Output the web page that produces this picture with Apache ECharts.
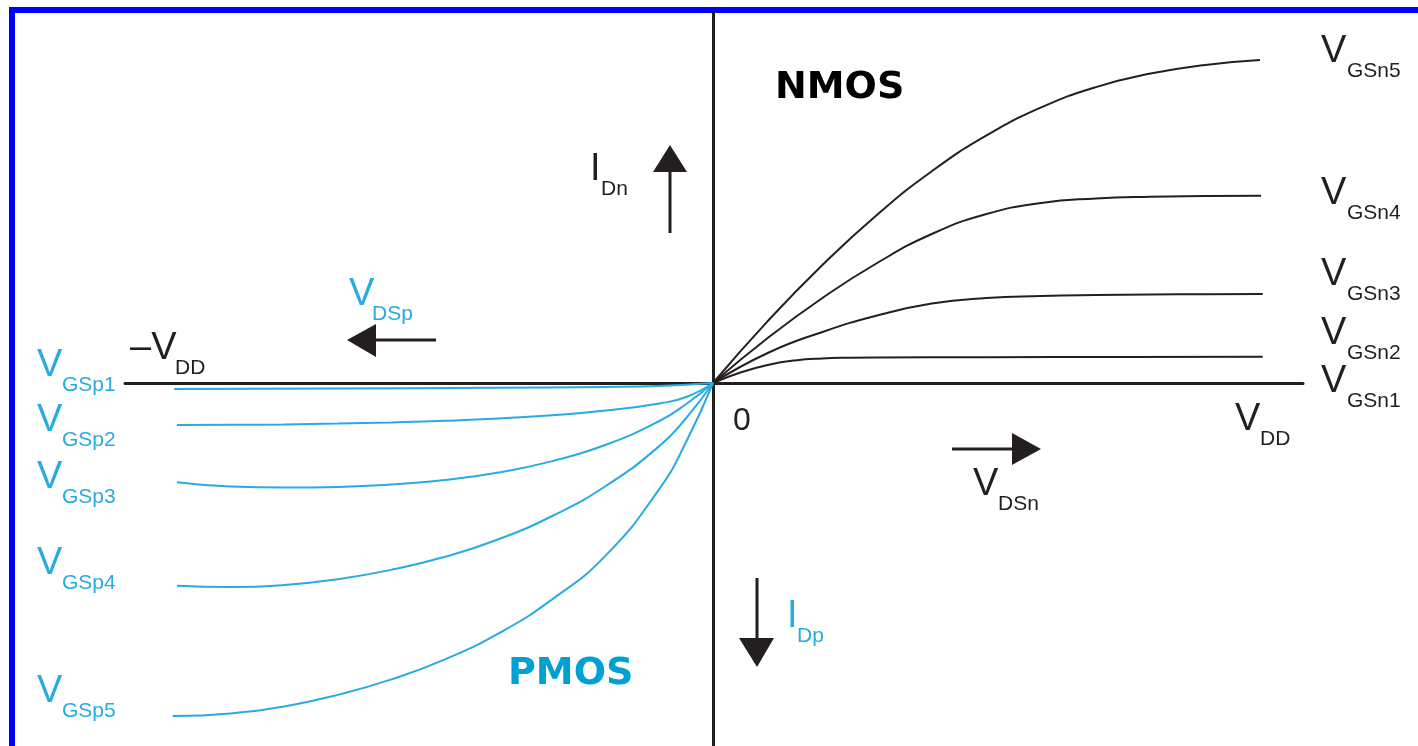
<!DOCTYPE html>
<html>
<head>
<meta charset="utf-8">
<title>NMOS / PMOS output characteristics</title>
<script src="https://cdn.jsdelivr.net/npm/echarts@6/dist/echarts.min.js"></script>
<style>
  html, body { margin: 0; padding: 0; background: #fff; }
  #main { width: 1418px; height: 746px; }
</style>
</head>
<body>
<div id="main"></div>
<script>
// x: V_DS as fraction of VDD, y: drain current (arbitrary units)
var nmos2 = [[0,0],[0.05,0.105],[0.1,0.18],[0.15,0.226],[0.2,0.246],[0.25,0.253],[0.3,0.256],[0.5,0.258],[0.75,0.26],[1.005,0.263]];
var nmos3 = [[0,0],[0.1,0.3],[0.2,0.51],[0.3,0.675],[0.4,0.795],[0.5,0.85],[0.6,0.87],[0.7,0.88],[0.8,0.885],[0.9,0.888],[1.005,0.89]];
var nmos4 = [[0,0],[0.1,0.45],[0.2,0.85],[0.3,1.2],[0.4,1.49],[0.5,1.69],[0.6,1.8],[0.7,1.845],[0.8,1.863],[0.9,1.869],[1.002,1.873]];
var nmos5 = [[0,0],[0.1,0.619],[0.2,1.18],[0.3,1.683],[0.4,2.118],[0.5,2.476],[0.6,2.756],[0.7,2.959],[0.8,3.094],[0.9,3.181],[1.0,3.229]];

var pmos1 = [[-0.985,-0.06],[-0.7,-0.055],[-0.4,-0.048],[-0.2,-0.04],[-0.1,-0.03],[0,0]];
var pmos2 = [[-0.98,-0.42],[-0.882,-0.418],[-0.784,-0.414],[-0.686,-0.406],[-0.588,-0.394],[-0.49,-0.378],[-0.392,-0.355],[-0.294,-0.322],[-0.196,-0.276],[-0.098,-0.205],[-0.049,-0.14],[0,0]];
var pmos3 = [[-0.98,-0.993],[-0.882,-1.036],[-0.784,-1.046],[-0.686,-1.04],[-0.588,-1.016],[-0.49,-0.97],[-0.392,-0.896],[-0.294,-0.781],[-0.196,-0.618],[-0.098,-0.38],[-0.049,-0.21],[0,0]];
var pmos4 = [[-0.98,-2.027],[-0.882,-2.04],[-0.784,-2.02],[-0.686,-1.962],[-0.588,-1.868],[-0.49,-1.738],[-0.392,-1.562],[-0.294,-1.33],[-0.196,-1.03],[-0.098,-0.63],[-0.049,-0.35],[0,0]];
var pmos5 = [[-0.988,-3.33],[-0.882,-3.304],[-0.784,-3.234],[-0.686,-3.119],[-0.588,-2.964],[-0.49,-2.764],[-0.392,-2.504],[-0.294,-2.164],[-0.196,-1.724],[-0.098,-1.058],[-0.049,-0.588],[0,0]];

var nmosNames = ['GSn1','GSn2','GSn3','GSn4','GSn5'];
var pmosNames = ['GSp1','GSp2','GSp3','GSp4','GSp5'];

var DARK = '#231f20';
var LIGHT = '#29abe2';
var FONT = '"Liberation Sans", Arial, sans-serif';

var chart = echarts.init(document.getElementById('main'));

function curve(name, data, color) {
  return {
    name: name,
    type: 'line',
    data: data,
    smooth: 0.5,
    symbol: 'none',
    silent: true,
    lineStyle: { color: color, width: 2 }
  };
}

function txt(x, y, s, color, size, weight) {
  return {
    type: 'text', x: x, y: y, silent: true,
    style: { text: s, fill: color, fontSize: size, fontFamily: weight ? '"DejaVu Sans", Verdana, sans-serif' : FONT,
             fontWeight: weight || 'normal', align: 'left', verticalAlign: 'middle' }
  };
}

// big letter + subscript
function vsub(x, y, main, sub, subDx, color) {
  return [txt(x, y, main, color, 38), txt(x + subDx, y + 19, sub, color, 21)];
}

function arrow(x1, y1, x2, y2, head) {
  return [
    { type: 'line', silent: true, shape: { x1: x1, y1: y1, x2: x2, y2: y2 }, style: { stroke: DARK, lineWidth: 3 } },
    { type: 'polygon', silent: true, shape: { points: head }, style: { fill: DARK } }
  ];
}

var graphics = [
  { type: 'rect', silent: true, shape: { x: 12, y: 10, width: 1500, height: 900 },
    style: { fill: 'none', stroke: '#0000ff', lineWidth: 6 } },
  txt(775, 88, 'NMOS', '#000', 38, 'bold'),
  txt(508, 674, 'PMOS', '#00a0d2', 38, 'bold'),
  txt(733, 421, '0', DARK, 32)
];
graphics = graphics
  .concat(vsub(1321, 382, 'V', nmosNames[0], 26, DARK))
  .concat(vsub(1321, 334, 'V', nmosNames[1], 26, DARK))
  .concat(vsub(1321, 275, 'V', nmosNames[2], 26, DARK))
  .concat(vsub(1321, 194, 'V', nmosNames[3], 26, DARK))
  .concat(vsub(1321, 52, 'V', nmosNames[4], 26, DARK))
  .concat(vsub(37, 366, 'V', pmosNames[0], 25, LIGHT))
  .concat(vsub(37, 421, 'V', pmosNames[1], 25, LIGHT))
  .concat(vsub(37, 478, 'V', pmosNames[2], 25, LIGHT))
  .concat(vsub(37, 564, 'V', pmosNames[3], 25, LIGHT))
  .concat(vsub(37, 692, 'V', pmosNames[4], 25, LIGHT))
  .concat(vsub(1235, 420, 'V', 'DD', 25, DARK))
  .concat(vsub(130, 349, '\u2013V', 'DD', 45, DARK))
  .concat(vsub(973, 485, 'V', 'DSn', 25, DARK))
  .concat(vsub(349, 295, 'V', 'DSp', 23, LIGHT))
  .concat(vsub(590, 170, 'I', 'Dn', 11, DARK))
  .concat(vsub(787, 617, 'I', 'Dp', 10, LIGHT))
  .concat(arrow(952, 449, 1014, 449, [[1012, 433], [1041, 449], [1012, 465]]))
  .concat(arrow(436, 340, 374, 340, [[376, 324], [347, 340], [376, 357]]))
  .concat(arrow(670, 233, 670, 170, [[653, 172], [670, 145], [687, 172]]))
  .concat(arrow(757, 578, 757, 640, [[739, 638], [757, 667], [774, 638]]));

var option = {
  animation: false,
  backgroundColor: '#fff',
  grid: { left: 125, right: 115, top: 12, bottom: 0 },
  xAxis: {
    type: 'value', min: -1.075, max: 1.0786,
    axisLine: { show: true, onZero: true, lineStyle: { color: DARK, width: 3 } },
    axisTick: { show: false }, axisLabel: { show: false }, splitLine: { show: false }
  },
  yAxis: {
    type: 'value', min: -3.63, max: 3.71,
    axisLine: { show: true, onZero: true, lineStyle: { color: DARK, width: 3 } },
    axisTick: { show: false }, axisLabel: { show: false }, splitLine: { show: false }
  },
  series: [
    curve(nmosNames[1], nmos2, DARK),
    curve(nmosNames[2], nmos3, DARK),
    curve(nmosNames[3], nmos4, DARK),
    curve(nmosNames[4], nmos5, DARK),
    curve(pmosNames[0], pmos1, LIGHT),
    curve(pmosNames[1], pmos2, LIGHT),
    curve(pmosNames[2], pmos3, LIGHT),
    curve(pmosNames[3], pmos4, LIGHT),
    curve(pmosNames[4], pmos5, LIGHT)
  ],
  graphic: graphics
};
option && chart.setOption(option);
</script>
</body>
</html>
